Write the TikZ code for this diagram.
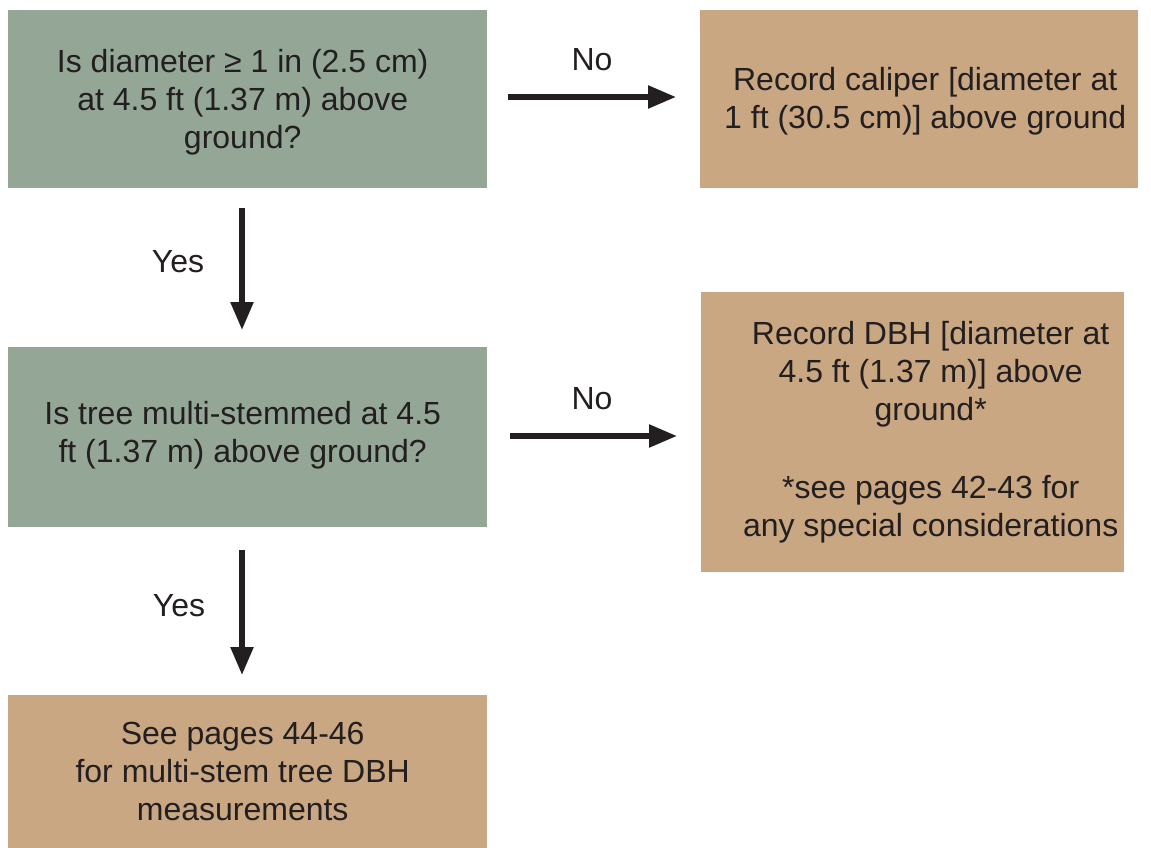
\documentclass[tikz,border=0pt]{standalone}
\usepackage{fontspec}
\setmainfont{Liberation Sans}
\usetikzlibrary{arrows.meta}
\definecolor{sage}{RGB}{148,166,150}
\definecolor{tan}{RGB}{201,167,130}
\definecolor{ink}{RGB}{35,31,32}
\tikzset{
  box/.style={anchor=north west, inner sep=0pt},
  qbox/.style={box, fill=sage},
  abox/.style={box, fill=tan},
  txt/.style={align=center, text=ink, inner sep=0pt,
    font=\fontsize{32}{38}\selectfont},
  arr/.style={draw=ink, line width=5.5pt, -{Triangle[length=28pt,width=22pt]}},
  lbl/.style={text=ink, font=\fontsize{32}{38}\selectfont, inner sep=0pt}
}
\begin{document}
\begin{tikzpicture}[x=1pt,y=-1pt]
\useasboundingbox (0,0) rectangle (1151,848);
\node[qbox, minimum width=479pt, minimum height=178pt,
  label={[txt,xshift=-5pt,yshift=-3pt]center:Is diameter \char"2265{} 1 in (2.5 cm)\\at 4.5 ft (1.37 m) above\\ground?}] (b1) at (8,10) {};
\node[abox, minimum width=438pt, minimum height=178pt,
  label={[txt,xshift=6pt,yshift=-2pt]center:Record caliper [diameter at\\1 ft (30.5 cm)] above ground}] (b2) at (700,10) {};
\node[qbox, minimum width=479pt, minimum height=180pt,
  label={[txt,xshift=-5pt,yshift=2pt]center:Is tree multi-stemmed at 4.5\\ft (1.37 m) above ground?}] (b3) at (8,347) {};
\node[abox, minimum width=423pt, minimum height=280pt,
  label={[txt,xshift=18pt,yshift=0pt]center:Record DBH [diameter at\\4.5 ft (1.37 m)] above\\ground*\\[40pt]*see pages 42-43 for\\any special considerations}] (b4) at (701,292) {};
\node[abox, minimum width=479pt, minimum height=153pt,
  label={[txt,xshift=-5pt]center:See pages 44-46\\for multi-stem tree DBH\\measurements}] (b5) at (8,695) {};
% connectors
\coordinate (d1s) at (242,188);
\coordinate (d1e) at (242,347);
\coordinate (d2s) at (242,527);
\coordinate (d2e) at (242,695);
\draw[arr, shorten <=21pt, shorten >=24pt] (b1.east |- 0,97) -- (b2.west |- 0,97);
\draw[arr, shorten <=23pt, shorten >=24pt] (b3.east |- 0,436) -- (b4.west |- 0,436);
\draw[arr, shorten <=20pt, shorten >=17pt] (d1s) -- (d1e);
\draw[arr, shorten <=23pt, shorten >=20pt] (d2s) -- (d2e);
% labels
\node[lbl] (n1) at (592,60) {No};
\node[lbl] (n2) at (592,399) {No};
\node[lbl] (y1) at (178,262) {Yes};
\node[lbl] (y2) at (179,606) {Yes};
\end{tikzpicture}
\end{document}
